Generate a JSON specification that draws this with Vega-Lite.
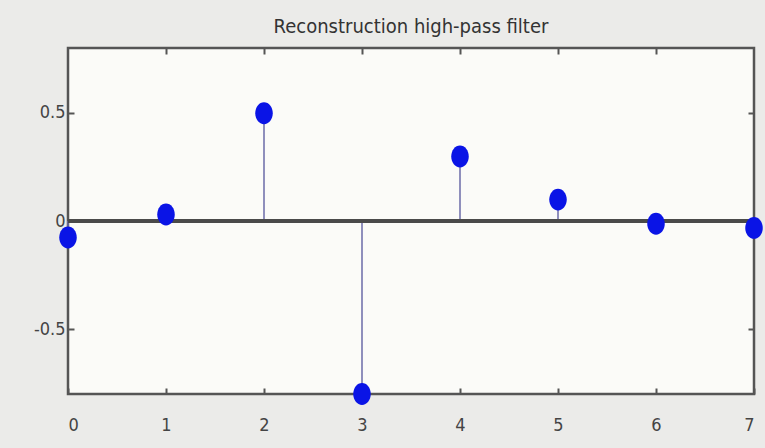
{
  "$schema": "https://vega.github.io/schema/vega-lite/v6.json",
  "width": 686,
  "height": 346,
  "autosize": {"type": "none"},
  "padding": {"left": 68, "top": 48, "right": 11, "bottom": 54},
  "background": "#ebebe9",
  "title": {
    "text": "Reconstruction high-pass filter",
    "font": "'DejaVu Sans Condensed', Roboto, sans-serif",
    "fontSize": 20,
    "fontWeight": "normal",
    "color": "#333333",
    "anchor": "middle",
    "offset": 10
  },
  "config": {
    "view": {"fill": "#fbfbf8", "stroke": "#555555", "strokeWidth": 2.5},
    "axis": {
      "domain": false,
      "grid": false,
      "tickColor": "#555555",
      "tickWidth": 2,
      "labelFont": "'DejaVu Sans Condensed', Roboto, sans-serif",
      "labelFontSize": 18,
      "labelColor": "#444444"
    }
  },
  "data": {
    "values": [
      {"n": 0, "v": -0.076},
      {"n": 1, "v": 0.03},
      {"n": 2, "v": 0.498},
      {"n": 3, "v": -0.8},
      {"n": 4, "v": 0.298},
      {"n": 5, "v": 0.099},
      {"n": 6, "v": -0.013},
      {"n": 7, "v": -0.032}
    ]
  },
  "resolve": {"axis": {"x": "independent", "y": "independent"}},
  "layer": [
    {
      "mark": {"type": "rule", "color": "#6b6ba8", "strokeWidth": 1.5},
      "encoding": {
        "x": {"field": "n", "type": "quantitative", "scale": {"domain": [0, 7], "nice": false, "zero": false},
              "axis": {"orient": "top", "labels": false, "values": [1, 2, 3, 4, 5, 6], "tickSize": -6, "title": null}},
        "y": {"field": "v", "type": "quantitative", "scale": {"domain": [-0.8, 0.8], "nice": false},
              "axis": {"orient": "right", "labels": false, "values": [-0.5, 0, 0.5], "tickSize": -6, "title": null}},
        "y2": {"datum": 0}
      }
    },
    {
      "mark": {"type": "rule", "color": "#4a4a4a", "strokeWidth": 3},
      "encoding": {
        "y": {"datum": 0, "type": "quantitative", "axis": null}
      }
    },
    {
      "mark": {"type": "point", "filled": true, "shape": "M -0.8,0 A 0.8,1 0 1,0 0.8,0 A 0.8,1 0 1,0 -0.8,0 Z", "size": 480, "color": "#0a14e6", "opacity": 1},
      "encoding": {
        "x": {"field": "n", "type": "quantitative",
              "axis": {"orient": "bottom", "values": [0, 1, 2, 3, 4, 5, 6, 7], "tickSize": -6, "labelPadding": 28, "title": null}},
        "y": {"field": "v", "type": "quantitative",
              "axis": {"orient": "left", "values": [-0.5, 0, 0.5], "tickSize": -6, "labelPadding": 9, "title": null,
                       "labelExpr": "datum.value < 0 ? '-' + format(-datum.value, '~g') : format(datum.value, '~g')"}}
      }
    }
  ]
}
